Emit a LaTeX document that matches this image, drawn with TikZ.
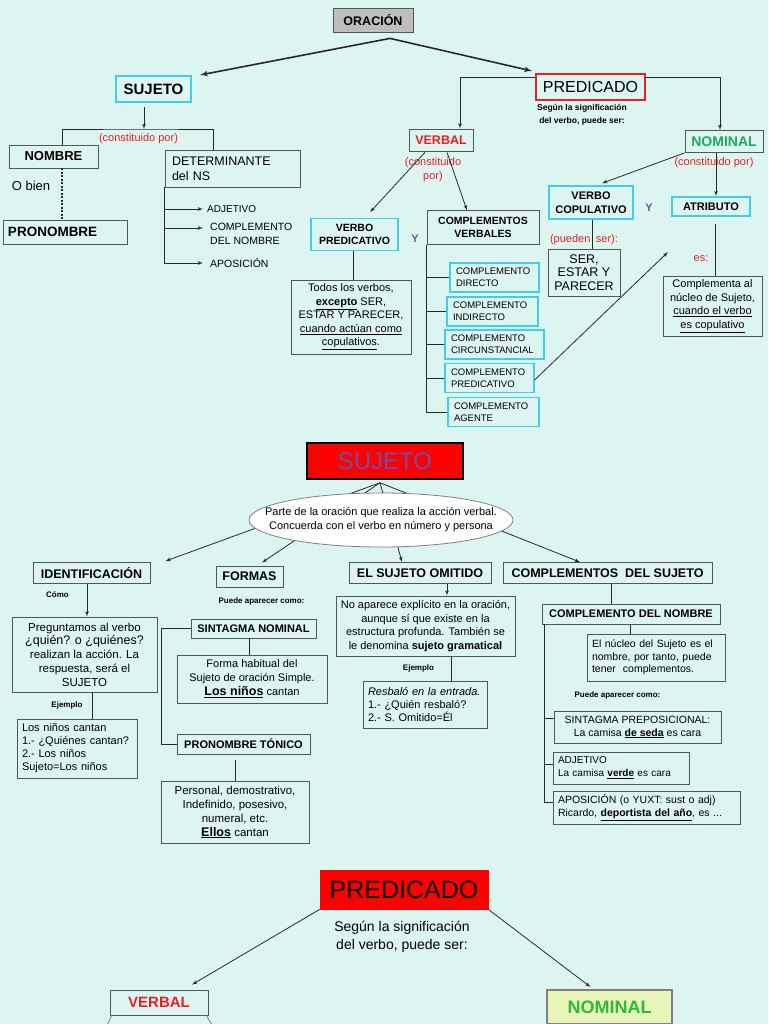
\documentclass[tikz,border=0pt]{standalone}
\usepackage{fontspec}
\setmainfont{Liberation Sans}
\usepackage{tikz}
\usetikzlibrary{arrows,shapes.geometric}
\definecolor{bgcol}{RGB}{221,245,241}
\definecolor{boxgray}{RGB}{85,85,85}
\definecolor{linegray}{RGB}{40,40,40}
\definecolor{cyanline}{RGB}{64,205,240}
\definecolor{redtxt}{RGB}{235,30,35}
\definecolor{greentxt}{RGB}{30,170,90}
\definecolor{greenb}{RGB}{50,185,60}
\definecolor{purpletxt}{RGB}{110,80,170}
\definecolor{orafill}{RGB}{190,190,190}
\definecolor{nomfill}{RGB}{232,245,185}
\newcommand{\fsz}[2]{\fontsize{#1}{#2}\selectfont}

\begin{document}
\begin{tikzpicture}[x=1pt,y=-1pt]
\tikzset{box/.style = {draw=boxgray, line width=0.8pt, inner sep=0pt, align=center}}
\tikzset{lbox/.style = {box, align=left, inner xsep=5pt}}
\tikzset{cbox/.style = {box, draw=cyanline, line width=1.5pt}}
\tikzset{ccomp/.style = {cbox, line width=1.2pt, align=left, inner xsep=6pt, minimum height=29pt, font=\fsz{9.5}{12}}}
\tikzset{lbl/.style = {inner sep=0pt, align=center}}
\tikzset{edge/.style = {draw=linegray, line width=0.8pt}}
\tikzset{arr/.style = {edge, ->, > = latex'}}
\path[use as bounding box, fill=bgcol] (0,0) rectangle (768,1024);

% oracion
\node[box, fill=orafill, minimum width=80pt, minimum height=24pt, font=\bfseries\fsz{12.5}{14}] (oracion) at (373,20) {ORACIÓN};
\node[cbox, line width=2pt, minimum width=75pt, minimum height=26pt, font=\bfseries\fsz{15}{17}] (sujeto) at (153.5,89) {SUJETO};
\node[box, draw=redtxt, line width=2pt, minimum width=109pt, minimum height=26pt, font=\fsz{16}{18}] (predicado) at (590.5,87) {PREDICADO};
\coordinate (osplit) at ([xshift=17pt,yshift=-6pt]oracion.south);
\draw[arr, line width=1.6pt] (osplit) -- ([xshift=8pt]sujeto.north east);
\draw[arr, line width=1.6pt] (osplit) -- ([xshift=-3pt,yshift=2pt]predicado.north west);

% sujeto
\node[lbl, text=redtxt, font=\fsz{11}{13}] (sconst) at (138.5,139) {(constituido por)};
\node[box, minimum width=89pt, minimum height=23pt, font=\bfseries\fsz{13}{15}] (nombre) at (53.5,156.5) {NOMBRE};
\node[lbl, font=\fsz{13}{15}] (obien) at (31,186) {O bien};
\node[lbox, text width=114pt, minimum height=24pt, font=\bfseries\fsz{13.5}{15}] (pronombre) at (65,232) {PRONOMBRE};
\node[lbox, inner xsep=7pt, text width=121pt, minimum height=37pt, font=\fsz{12.5}{15}] (det) at (232.5,168.5) {DETERMINANTE\\del NS};
\coordinate (sfork) at ([xshift=-9.5pt,yshift=-26pt]sujeto.south);
\draw[arr] ([xshift=-9.5pt,yshift=-4pt]sujeto.south) -- (sfork);
\draw[edge] ([xshift=8.5pt]nombre.north) |- (sfork) -| ([xshift=-19.5pt]det.north);
\draw[edge, line width=2pt, dash pattern=on 2pt off 1.5pt] ([xshift=8.5pt]nombre.south) -- ([xshift=-3pt]pronombre.north);
\node[lbl, anchor=west, inner xsep=4pt, font=\fsz{10}{12}] (adj) at (203,209) {ADJETIVO};
\node[lbl, anchor=west, inner xsep=7pt, align=left, font=\fsz{10.5}{13.5}] (cdn1) at (203,234) {COMPLEMENTO\\DEL NOMBRE};
\node[lbl, anchor=west, inner xsep=7pt, font=\fsz{10.5}{12}] (apos1) at (203,263) {APOSICIÓN};
\draw[arr] (det.south west) |- (adj.west);
\draw[arr] (det.south west) |- ([yshift=6pt]cdn1.west);
\draw[arr] (det.south west) |- (apos1.west);

% predicado verbal
\node[lbl, font=\bfseries\fsz{8.5}{13}] (psig) at (582,115) {Según la significación\\del verbo, puede ser:};
\node[box, minimum width=64pt, minimum height=22pt, text=redtxt, font=\bfseries\fsz{12.5}{14}] (verbal) at (441,140) {VERBAL};
\node[box, minimum width=78pt, minimum height=22pt, text=greentxt, font=\bfseries\fsz{14}{16}] (nominal) at (724,141.5) {NOMINAL};
\draw[arr] ([yshift=10pt]predicado.west) -| ([xshift=19pt]verbal.north);
\draw[arr] ([yshift=10pt]predicado.east) -| ([xshift=-4pt]nominal.north);
\node[lbl, text=redtxt, font=\fsz{11}{14}] (vconst) at (433,169.5) {(constituido\\por)};
\node[cbox, minimum width=87pt, minimum height=32pt, font=\bfseries\fsz{10.5}{13.5}] (vpred) at (354.5,234.5) {VERBO\\PREDICATIVO};
\node[lbl, text=purpletxt, font=\bfseries\fsz{11}{13}] (y1) at (415,239) {Y};
\node[box, line width=1pt, minimum width=112pt, minimum height=33pt, font=\bfseries\fsz{10.5}{13.5}] (cverb) at (483,227.5) {COMPLEMENTOS\\VERBALES};
\draw[arr] ([xshift=-16pt,yshift=-1pt]verbal.south) -- ([xshift=15.5pt,yshift=5.5pt]vpred.north);
\draw[arr] ([xshift=6pt,yshift=-1pt]verbal.south) -- ([xshift=-16pt]cverb.north);
\node[box, minimum width=120pt, minimum height=74pt, font=\fsz{11}{13.5}] (todos) at (351,317) {Todos los verbos,\\\underline{\textbf{excepto}} SER,\\ESTAR Y PARECER,\\\underline{cuando actúan como}\\\underline{copulativos}.};
\draw[edge] ([xshift=-1.5pt]vpred.south) -- ([xshift=2pt]todos.north);
\node[ccomp, text width=77pt] (cd) at (494.5,277.5) {COMPLEMENTO\\DIRECTO};
\node[ccomp, text width=79pt] (ci) at (492.5,311.5) {COMPLEMENTO\\INDIRECTO};
\node[ccomp, text width=87pt] (cc) at (494.5,344.5) {COMPLEMENTO\\CIRCUNSTANCIAL};
\node[ccomp, text width=77pt] (cp) at (489.5,378) {COMPLEMENTO\\PREDICATIVO};
\node[ccomp, text width=79pt] (ca) at (493.5,412) {COMPLEMENTO\\AGENTE};
\draw[edge] (cverb.south west) |- (cd.west);
\draw[edge] (cverb.south west) |- (ci.west);
\draw[edge] (cverb.south west) |- (cc.west);
\draw[edge] (cverb.south west) |- (cp.west);
\draw[edge] (cverb.south west) |- (ca.west);
\coordinate (cptip) at (668,252);
\draw[arr] ([yshift=-2pt]cp.east) -- (cptip);

% predicado nominal
\node[lbl, text=redtxt, font=\fsz{11}{13}] (nconst) at (714,163) {(constituido por)};
\node[cbox, minimum width=84pt, minimum height=33pt, font=\bfseries\fsz{11}{13.5}] (vcop) at (591,202.5) {VERBO\\COPULATIVO};
\node[lbl, text=purpletxt, font=\bfseries\fsz{11}{13}] (y2) at (649,208) {Y};
\node[cbox, minimum width=78pt, minimum height=19pt, font=\bfseries\fsz{11}{13}] (atrib) at (711,206.5) {ATRIBUTO};
\draw[arr] (nominal.south west) -- ([xshift=11pt,yshift=2pt]vcop.north);
\draw[arr] ([xshift=-8pt]nominal.south) -- ([xshift=5pt]atrib.north);
\node[box, minimum width=72pt, minimum height=47pt, font=\fsz{12.5}{13.5}] (ser) at (584,272.5) {SER,\\ESTAR Y\\PARECER};
\draw[edge] ([xshift=1pt]vcop.south) -- ([xshift=8pt]ser.north);
\node[lbl, text=redtxt, font=\fsz{11}{13}] (pueden) at (584,240) {(pueden\enspace ser):};
\node[box, minimum width=99pt, minimum height=60pt, font=\fsz{11}{13.5}] (compl) at (712.5,306) {Complementa al\\núcleo de Sujeto,\\\underline{cuando el verbo}\\\underline{es copulativo}};
\draw[edge] ([xshift=4pt,yshift=-7pt]atrib.south) -- ([xshift=2.5pt]compl.north);
\node[lbl, text=redtxt, font=\fsz{11}{13}] (es) at (701,259) {es:};

% sujeto (segunda parte)
\node[box, draw=black, line width=1.5pt, fill=red, minimum width=156pt, minimum height=36pt, text=purpletxt, font=\fsz{24}{26}] (bigsuj) at (385,461) {SUJETO};
\node[box, minimum width=117pt, minimum height=21pt, font=\bfseries\fsz{12.5}{14}] (ident) at (91.5,573) {IDENTIFICACIÓN};
\node[box, minimum width=67pt, minimum height=21pt, font=\bfseries\fsz{12.5}{14}] (formas) at (249.5,576.5) {FORMAS};
\node[box, minimum width=142pt, minimum height=21pt, font=\bfseries\fsz{12.5}{14}] (omit) at (420,573) {EL SUJETO OMITIDO};
\node[box, minimum width=209pt, minimum height=21pt, font=\bfseries\fsz{12.5}{14}] (compsuj) at (607.5,573) {COMPLEMENTOS\ \ DEL SUJETO};
\coordinate (sjfork) at ([xshift=-5pt,yshift=-3pt]bigsuj.south);
\draw[arr] (sjfork) -- ([xshift=15pt,yshift=1pt]ident.north east);
\draw[arr] (sjfork) -- ([xshift=12.5pt,yshift=3pt]formas.north);
\draw[arr] (sjfork) -- ([xshift=-18pt]omit.north);
\draw[arr] (sjfork) -- ([xshift=-27.5pt]compsuj.north);
\node[ellipse, draw=gray, fill=white, line width=0.8pt, minimum width=264pt, minimum height=54pt, inner sep=0pt] (def) at (381,520) {};
\node[lbl, font=\fsz{11}{14}] (deftext) at (def.center) {Parte de la oración que realiza la acción verbal.\\Concuerda con el verbo en número y persona};

\node[lbl, font=\bfseries\fsz{8}{10}] (como) at (57.5,595) {Cómo};
\node[box, minimum width=145pt, minimum height=75pt, font=\fsz{11.5}{13.8}] (preg) at (84.5,654.5) {Preguntamos al verbo\\{\fsz{12.5}{13.8}¿quién? o ¿quiénes?}\\realizan la acción. La\\respuesta, será el\\SUJETO};
\draw[arr] ([xshift=-4.5pt]ident.south) -- ([xshift=2.5pt]preg.north);
\node[lbl, font=\bfseries\fsz{8}{10}] (ej1) at (67,705) {Ejemplo};
\node[lbox, text width=110pt, minimum height=59pt, font=\fsz{11}{13}] (losn) at (77,748.5) {Los niños cantan\\1.- ¿Quiénes cantan?\\2.- Los niños\\Sujeto=Los niños};
\draw[edge] ([xshift=7.5pt]preg.south) -- ([xshift=15pt]losn.north);

\node[lbl, font=\bfseries\fsz{8}{10}] (puede1) at (261.5,601) {Puede aparecer como:};
\node[box, minimum width=125pt, minimum height=19pt, font=\bfseries\fsz{11}{13}] (sn) at (253.5,628.5) {SINTAGMA NOMINAL};
\node[box, minimum width=150pt, minimum height=48pt, font=\fsz{11}{14}] (forma) at (252,679) {Forma habitual del\\Sujeto de oración Simple.\\{\fsz{12.5}{14}\underline{\textbf{Los niños}}} cantan};
\draw[edge] ([xshift=-4.5pt]sn.south) -- ([xshift=-3pt]forma.north);
\node[box, minimum width=133pt, minimum height=20pt, font=\bfseries\fsz{11}{13}] (pt) at (243.5,744) {PRONOMBRE TÓNICO};
\draw[edge] (sn.west) -- ++(-29,0) |- (pt.west);
\node[box, minimum width=148pt, minimum height=62pt, font=\fsz{11.5}{14}] (pers) at (235,812) {Personal, demostrativo,\\Indefinido, posesivo,\\numeral, etc.\\{\fsz{12.5}{14}\underline{\textbf{Ellos}}} cantan};
\draw[edge] ([xshift=-8.5pt,yshift=-6pt]pt.south) -- (pers.north);

\node[box, minimum width=179pt, minimum height=60pt, font=\fsz{11}{13.5}] (noap) at (425.5,626) {No aparece explícito en la oración,\\aunque sí que existe en la\\estructura profunda. También se\\le denomina \textbf{sujeto gramatical}};
\draw[arr] ([xshift=27pt]omit.south) -- ([xshift=21.5pt]noap.north);
\node[lbl, font=\bfseries\fsz{8}{10}] (ej2) at (418.5,668) {Ejemplo};
\node[lbox, text width=114pt, minimum height=47pt, font=\fsz{11}{13}] (resb) at (425,704.5) {\textit{Resbaló en la entrada.}\\1.- ¿Quién resbaló?\\2.- S. Omitido=Él};
\draw[edge] ([xshift=25.5pt]noap.south) -- ([xshift=26pt]resb.north);

\node[box, minimum width=178pt, minimum height=20pt, font=\bfseries\fsz{11}{13}] (cdn) at (631,614) {COMPLEMENTO DEL NOMBRE};
\draw[edge] ([xshift=3.5pt]compsuj.south) -- ([xshift=-20pt]cdn.north);
\node[lbox, inner xsep=5pt, text width=128pt, minimum height=47pt, font=\fsz{10.5}{12.5}] (nucl) at (656,657.5) {El núcleo del Sujeto es el\\nombre, por tanto, puede\\tener\ \ complementos.};
\draw[edge] ([xshift=-1pt]cdn.south) -- ([xshift=-26pt]nucl.north);
\node[lbl, font=\bfseries\fsz{8}{10}] (puede2) at (617.5,695) {Puede aparecer como:};
\node[box, minimum width=167pt, minimum height=32pt, font=\fsz{10.5}{13}] (sp) at (637.5,727) {SINTAGMA PREPOSICIONAL:\\La camisa \underline{\textbf{de seda}} es cara};
\node[lbox, inner xsep=5pt, text width=126pt, minimum height=32pt, font=\fsz{10}{13}] (adj2) at (621,768) {ADJETIVO\\La camisa \underline{\textbf{verde}} es cara};
\node[lbox, inner xsep=5pt, text width=177pt, minimum height=33pt, font=\fsz{10.5}{13}] (apos2) at (646.5,807.5) {APOSICIÓN (o YUXT: sust o adj)\\Ricardo, \underline{\textbf{deportista del año}}, es ...};
\draw[edge] ([xshift=3pt]cdn.south west) |- ([yshift=9pt]sp.west);
\draw[edge] ([xshift=3pt]cdn.south west) |- ([yshift=4pt]adj2.west);
\draw[edge] ([xshift=3pt]cdn.south west) |- ([yshift=5pt]apos2.west);

% predicado (segunda parte)
\node[box, draw=red, fill=red, minimum width=168pt, minimum height=39pt, font=\fsz{25}{27}] (bigpred) at (404,889.5) {PREDICADO};
\node[lbl, font=\fsz{14}{18}] (bsig) at (402,937) {Según la significación\\del verbo, puede ser:};
\node[box, minimum width=98pt, minimum height=25pt, text=redtxt, font=\bfseries\fsz{15}{17}] (verbal2) at (159,1002.5) {VERBAL};
\node[box, draw=gray, line width=2pt, fill=nomfill, minimum width=125pt, minimum height=34pt, text=greenb, font=\bfseries\fsz{18}{20}] (nominal2) at (609.5,1007) {NOMINAL};
\draw[arr] (bigpred.south west) -- ([xshift=33pt,yshift=5pt]verbal2.north);
\draw[arr] (bigpred.south east) -- ([xshift=-19pt,yshift=2pt]nominal2.north);
\coordinate (vl) at (104,1032);
\coordinate (vr) at (216,1032);
\draw[edge, draw=gray] ([xshift=2pt]verbal2.south west) -- (vl);
\draw[edge, draw=gray] ([xshift=-2pt]verbal2.south east) -- (vr);
\end{tikzpicture}
\end{document}
